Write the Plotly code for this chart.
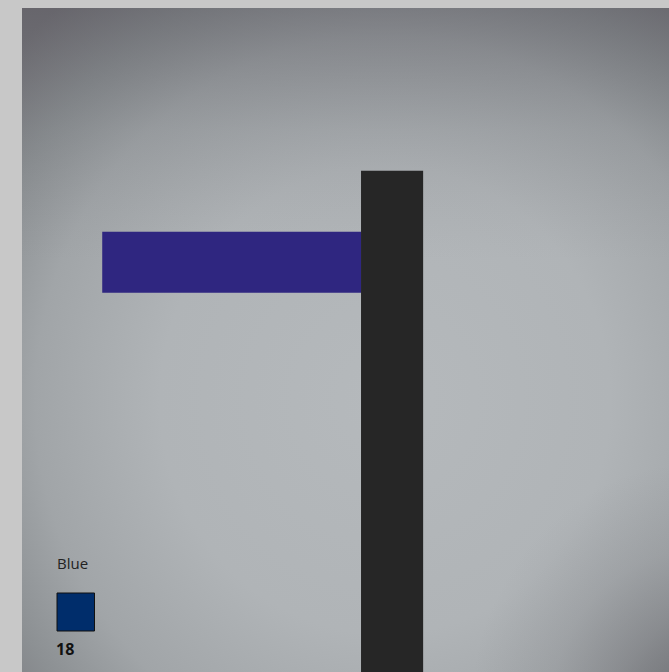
import plotly.graph_objects as go

# ---- data (axis units 0-100) ----
bar_names = ["Blue", "Black"]
blue_start = [12.4]      # left end of the horizontal blue bar
blue_length = [40.0]     # length of the horizontal blue bar
blue_level = [61.7]      # vertical position of the blue bar
black_position = [57.2]  # horizontal position of the vertical black bar
black_height = [75.5]    # height of the vertical black bar
legend_label = "Blue"
legend_value = 18

# ---- layout constants ----
W, H = 669, 672
ML, MT = 22, 8
PW, PH = W - ML, H - MT


def dx(px):
    return (px - ML) / PW * 100


def dy(py):
    return (H - py) / PH * 100


def px_paper(px):
    return (px - ML) / PW


def py_paper(py):
    return (H - py) / PH


def ellipse_box(cx, cy, rx, ry):
    x0, x1 = dx(cx - rx), dx(cx + rx)
    y0, y1 = dy(cy + ry), dy(cy - ry)
    return [x0, x1, x1, x0, x0], [y0, y0, y1, y1, y0]


fig = go.Figure()

# vignette background (radial gradient)
bx, by = ellipse_box(385, 400, 500, 520)
fig.add_trace(go.Scatter(
    x=bx, y=by, mode="lines", line=dict(width=0), fill="toself",
    fillgradient=dict(type="radial", colorscale=[
        [0.0, "#b5b9bc"], [0.45, "#b0b4b7"], [0.7, "#a1a5a8"],
        [0.85, "#8c9093"], [1.0, "#78777c"]]),
    hoverinfo="skip", showlegend=False))

# darker band at the top
fig.add_trace(go.Scatter(
    x=[-5, 105, 105, -5, -5], y=[dy(260), dy(260), 105, 105, dy(260)],
    mode="lines", line=dict(width=0), fill="toself",
    fillgradient=dict(type="vertical", start=dy(0), stop=dy(260), colorscale=[
        [0.0, "rgba(80,78,86,0.45)"], [0.5, "rgba(90,92,98,0.15)"],
        [1.0, "rgba(120,120,125,0)"]]),
    hoverinfo="skip", showlegend=False))

# darker bottom-right corner
cx_, cy_ = ellipse_box(700, 712, 230, 250)
fig.add_trace(go.Scatter(
    x=cx_, y=cy_, mode="lines", line=dict(width=0), fill="toself",
    fillgradient=dict(type="radial", colorscale=[
        [0.0, "rgba(95,95,100,0.7)"], [0.3, "rgba(98,98,103,0.45)"],
        [0.65, "rgba(105,105,110,0.15)"], [1.0, "rgba(110,110,115,0)"]]),
    hoverinfo="skip", showlegend=False))

# blue horizontal bar
fig.add_trace(go.Bar(
    x=blue_length, y=blue_level, base=blue_start, width=[9.2], orientation="h",
    name=bar_names[0], xaxis="x2", yaxis="y2",
    marker=dict(color="#2f2680", line=dict(width=0)),
    showlegend=False, hoverinfo="skip"))

# black vertical bar
fig.add_trace(go.Bar(
    x=black_position, y=black_height, width=[9.6], name=bar_names[1],
    xaxis="x3", yaxis="y3",
    marker=dict(color="#262626", line=dict(width=0)),
    showlegend=False, hoverinfo="skip"))

ax = dict(range=[0, 100], visible=False, showgrid=False, zeroline=False, fixedrange=True)
fig.update_layout(
    width=W, height=H,
    margin=dict(l=ML, r=0, t=MT, b=0),
    paper_bgcolor="#c8c8c8", plot_bgcolor="rgba(0,0,0,0)",
    xaxis=ax, yaxis=ax,
    xaxis2=dict(ax, overlaying="x"), yaxis2=dict(ax, overlaying="y"),
    xaxis3=dict(ax, overlaying="x"), yaxis3=dict(ax, overlaying="y"),
    barmode="overlay",
    font=dict(family="Open Sans, sans-serif"),
    annotations=[
        dict(text=legend_label, xref="paper", yref="paper",
             x=px_paper(55), y=py_paper(563), xanchor="left", yanchor="middle",
             showarrow=False, font=dict(size=15, color="#222222")),
        dict(text="<b>%d</b>" % legend_value, xref="paper", yref="paper",
             x=px_paper(54), y=py_paper(649), xanchor="left", yanchor="middle",
             showarrow=False, font=dict(size=16, color="#111111")),
    ],
    shapes=[
        dict(type="rect", xref="paper", yref="paper",
             x0=px_paper(57), x1=px_paper(94.5),
             y0=py_paper(631), y1=py_paper(593),
             fillcolor="#002d6b", line=dict(color="#111111", width=1)),
    ],
)

fig.write_html(
    "out.html",
    config={"displayModeBar": False},
    post_script="document.body.style.margin='0';document.body.style.overflow='hidden';"
                "document.body.style.background='#c8c8c8';",
)
